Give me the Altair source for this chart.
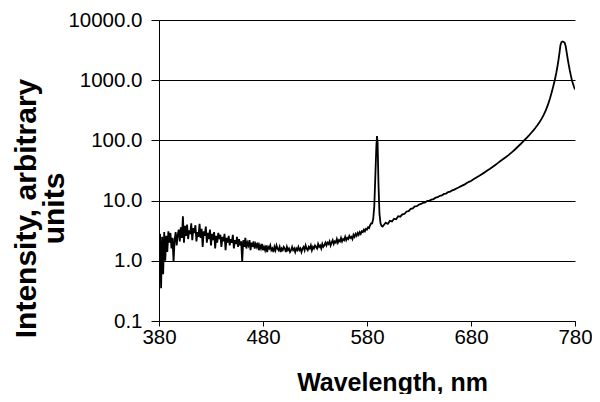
import altair as alt
import pandas as pd

# ---- data ----
# noisy region, 1 nm grid 380..480
wl_a = list(range(380, 481))
int_a = [1.2, 2.8, 0.35, 2.5, 0.6, 3.0, 1.0, 2.6, 1.4, 3.1,
         2.0, 2.9, 1.6, 2.4, 0.97, 2.2, 3.0, 1.8, 2.7, 3.3,
         2.1, 3.6, 2.4, 5.5, 2.0, 3.8, 2.6, 4.0, 2.3, 3.2,
         2.8, 4.2, 2.2, 3.5, 2.9, 3.9, 2.1, 3.0, 2.5, 4.1,
         2.4, 3.4, 1.7, 3.1, 2.6, 3.7, 2.0, 2.9, 2.3, 3.3,
         1.8, 2.8, 2.2, 3.0, 1.6, 2.6, 2.0, 2.9, 2.3, 2.7,
         1.7, 2.5, 2.1, 2.8, 1.5, 2.4, 2.0, 2.6, 1.8, 2.3,
         2.0, 2.7, 1.6, 2.2, 1.9, 2.5, 1.7, 2.3, 1.8, 2.1,
         0.97, 2.2, 1.7, 2.4, 1.6, 2.0, 1.8, 2.2, 1.5, 2.0,
         1.7, 2.1, 1.6, 1.9, 1.7, 2.0, 1.5, 1.8, 1.6, 1.9,
         1.5]
# flat region 481..540
wl_b = list(range(481, 541))
int_b = [1.7, 1.5, 1.8, 1.4, 1.7, 1.6, 1.8, 1.5, 1.6, 1.4,
         1.7, 1.5, 1.8, 1.6, 1.5, 1.7, 1.4, 1.6, 1.5, 1.7,
         1.6, 1.4, 1.7, 1.5, 1.6, 1.4, 1.5, 1.7, 1.5, 1.6,
         1.4, 1.6, 1.5, 1.7, 1.5, 1.6, 1.4, 1.6, 1.7, 1.5,
         1.8, 1.6, 1.5, 1.7, 1.6, 1.8, 1.5, 1.7, 1.6, 1.8,
         1.7, 1.6, 1.9, 1.7, 1.8, 1.6, 1.9, 1.7, 1.8, 2.0]
# slow rise 541..584
wl_c = list(range(541, 585))
int_c = [1.8, 2.0, 1.9, 2.1, 1.8, 2.0, 2.2, 1.9, 2.1, 2.0,
         2.3, 2.0, 2.2, 2.1, 2.4, 2.1, 2.3, 2.2, 2.5, 2.2,
         2.4, 2.3, 2.6, 2.4, 2.5, 2.3, 2.7, 2.5, 2.8, 2.6,
         2.9, 2.7, 3.0, 2.8, 3.1, 3.0, 3.3, 3.1, 3.4, 3.3,
         3.6, 3.5, 3.9, 4.2]
# sodium line
wl_d = [585, 586, 587, 588, 589, 589.6, 590.2, 591, 592, 593, 594, 595]
int_d = [4.2, 5.0, 8.0, 25, 80, 118, 90, 20, 6.0, 4.2, 3.8, 3.7]
# continuum rise 596..700
wl_e = [596, 598, 600, 602, 604, 606, 608, 610, 612, 614, 616, 618, 620,
        622, 624, 626, 628, 630, 632, 634, 636, 638, 640, 642, 644, 646,
        648, 650, 652, 654, 656, 658, 660, 662, 664, 666, 668, 670, 672,
        674, 676, 678, 680, 682, 684, 686, 688, 690, 692, 694, 696, 698, 700]
int_e = [3.9, 4.3, 4.1, 4.6, 4.5, 5.0, 4.9, 5.5, 5.4, 5.9, 6.0, 6.6, 6.7,
         7.3, 7.4, 8.0, 8.1, 8.6, 8.8, 9.2, 9.3, 9.9, 10.0, 10.4, 10.6, 11.2,
         11.4, 12.0, 12.2, 12.9, 13.1, 13.9, 14.1, 14.8, 15.2, 15.9, 16.5, 17.2, 17.9,
         18.6, 19.6, 20.5, 21.2, 22.4, 23.5, 24.6, 25.8, 27.2, 28.6, 30.1, 31.8, 33.5, 35.5]
# steep rise and strong peak 702..780
wl_f = [702, 704, 706, 708, 710, 712, 714, 716, 718, 720, 722, 724, 726, 728,
        730, 732, 734, 736, 738, 740, 742, 744, 746, 748, 750, 752, 754, 756,
        758, 760, 761, 762, 763, 764, 765, 766, 767, 768, 769, 770, 771, 772,
        773, 774, 775, 776, 777, 778, 779, 780]
int_f = [37.6, 39.9, 42.3, 44.9, 47.7, 50.6, 53.7, 57.0, 60.8, 65, 70, 75.5, 81.5, 88,
         95.5, 103.5, 112.5, 122.5, 134, 147, 162, 180, 202, 230, 267, 318, 392, 500,
         665, 915, 1090, 1320, 1640, 2100, 2800, 3800, 4300, 4400, 4300, 4200, 3700, 2900,
         2250, 1800, 1450, 1200, 1000, 880, 780, 700]

x_ticks = [380, 480, 580, 680, 780]
y_ticks = [0.1, 1, 10, 100, 1000, 10000]

df = pd.DataFrame({
    "wl": wl_a + wl_b + wl_c + wl_d + wl_e + wl_f,
    "v": int_a + int_b + int_c + int_d + int_e + int_f,
})

FONT = "Liberation Sans"

chart = alt.Chart(df).mark_line(color="black", strokeWidth=1.8, clip=True).encode(
    x=alt.X("wl:Q",
            scale=alt.Scale(domain=[380, 780], nice=False, zero=False),
            axis=alt.Axis(values=x_ticks, grid=False, title="Wavelength, nm",
                          labelFont=FONT, labelFontSize=20.5, labelColor="black",
                          labelPadding=1, labelFlush=False, labelOverlap=False,
                          tickSize=5, tickColor="black", domainColor="black",
                          titleFont=FONT, titleFontSize=25, titleFontWeight="bold",
                          titleColor="black", titleX=233, titleY=69,
                          titleAlign="center", titleBaseline="alphabetic")),
    y=alt.Y("v:Q",
            scale=alt.Scale(type="log", domain=[0.1, 10000], nice=False),
            axis=alt.Axis(values=y_ticks, format=".1f", grid=True, gridColor="black",
                          gridWidth=1, title=["Intensity, arbitrary", "units"],
                          labelFont=FONT, labelFontSize=20.5, labelColor="black",
                          labelPadding=9, labelOverlap=False, labelFlush=False,
                          tickSize=8, tickColor="black", domainColor="black",
                          titleFont=FONT, titleFontSize=30, titleFontWeight="bold",
                          titleColor="black", titleAngle=270, titleLineHeight=28,
                          titleX=-124, titleY=188, titleAlign="center",
                          titleBaseline="alphabetic")),
).properties(
    width=416, height=301,
    autosize="none",
    padding={"left": 151, "top": 12, "right": 17, "bottom": 73},
).configure_view(stroke=None)

chart.save("out.html", embed_options={"renderer": "svg", "actions": False})
